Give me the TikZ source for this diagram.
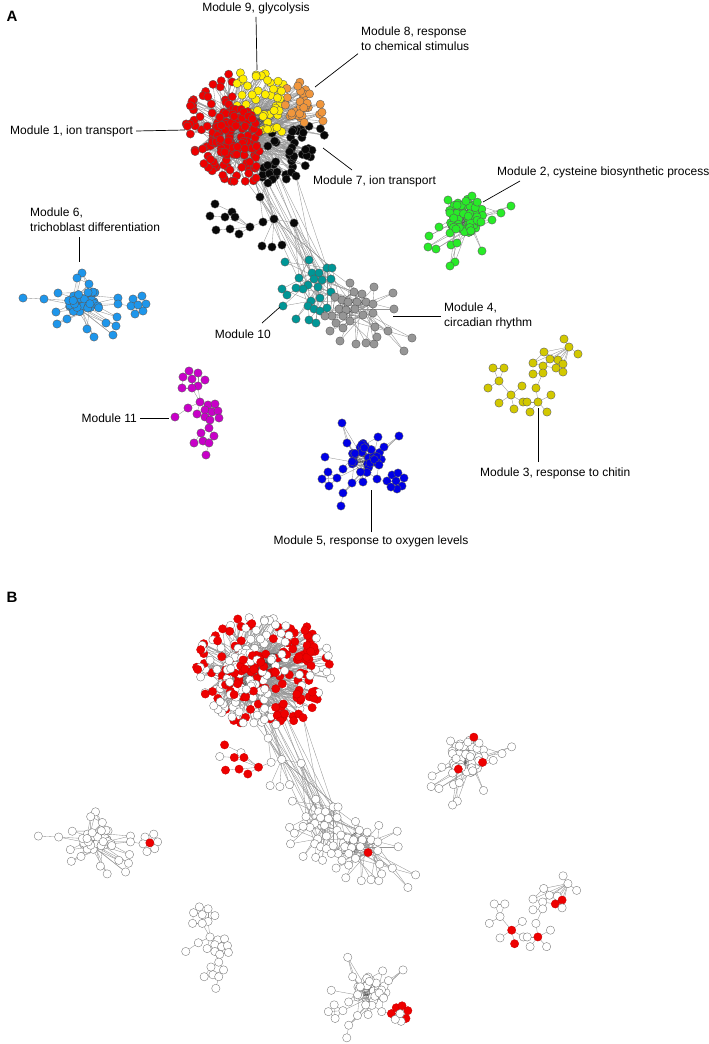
\documentclass[tikz,border=0pt]{standalone}
\usepackage{fontspec}
\setmainfont{Liberation Sans}
\pgfdeclarelayer{bg}
\pgfdeclarelayer{edges}
\pgfsetlayers{bg,edges,main}
\definecolor{mred}{RGB}{238,0,0}
\definecolor{myel}{RGB}{255,238,0}
\definecolor{morg}{RGB}{240,150,60}
\definecolor{mblk}{RGB}{8,8,8}
\definecolor{mgrn}{RGB}{40,235,40}
\definecolor{mteal}{RGB}{0,150,150}
\definecolor{mgray}{RGB}{150,150,150}
\definecolor{mlblu}{RGB}{30,150,235}
\definecolor{mmag}{RGB}{200,0,200}
\definecolor{mblu}{RGB}{0,0,230}
\definecolor{molv}{RGB}{210,200,0}
\tikzset{
 nd/.style={circle,inner sep=0pt,minimum size=8.3pt,line width=0.35pt},
 ed/.style={draw=black!42,line width=0.35pt},
 edk/.style={draw=black!70,line width=0.35pt},
 lbl/.style={font=\fontsize{12}{14.5}\selectfont,inner sep=3pt,align=left},
 ptr/.style={draw=black,line width=0.7pt},
 panel/.style={font=\bfseries\fontsize{15}{15}\selectfont,inner sep=0pt}
}
\newif\ifpanelA
\newcommand\pickp[2]{\ifpanelA\def\fc{#1}\def\dc{black!65}\else
  \ifdim\rr pt<#2 pt\def\fc{mred}\def\dc{mred!85!black}\else\def\fc{white}\def\dc{black!55}\fi\fi}
\newcommand\pickf[2]{\ifpanelA\def\fc{#1}\def\dc{black!65}\else
  \ifnum#2=1 \def\fc{mred}\def\dc{mred!85!black}\else\def\fc{white}\def\dc{black!55}\fi\fi}
% random blob: prefix, cx, cy, rx, ry, n, colour, red probability
\newcommand\blob[8]{%
 \foreach \i in {1,...,#6}{%
  \pgfmathsetmacro\ang{360*rnd}%
  \pgfmathsetmacro\rad{sqrt(rnd)}%
  \pgfmathsetmacro\px{#2+#4*\rad*cos(\ang)}%
  \pgfmathsetmacro\py{#3+#5*\rad*sin(\ang)}%
  \pgfmathsetmacro\rr{rnd}%
  \pickp{#7}{#8}%
  \node[nd,fill=\fc,draw=\dc] (\P#1-\i) at (\px,\py) {};}}
% hand placed nodes: prefix, colour, list x/y/redflag
\newcommand\hand[3]{%
 \foreach[count=\i] \hx/\hy/\hr in {#3}{%
  \pickf{#2}{\hr}%
  \node[nd,fill=\fc,draw=\dc] (\P#1-\i) at (\hx,\hy) {};}}
% random links: style, src prefix, from, to, k, dst prefix, m
\newcommand\links[7]{%
 \begin{pgfonlayer}{edges}%
 \foreach \i in {#3,...,#4}{\foreach \j in {1,...,#5}{%
   \pgfmathrandominteger{\t}{1}{#7}%
   \draw[#1] (\P#2-\i.center) -- (\P#6-\t.center);}}%
 \end{pgfonlayer}}
% explicit links inside one group
\newcommand\edges[2]{%
 \begin{pgfonlayer}{edges}%
 \foreach \ea/\eb in {#2}{\draw[ed] (\P#1-\ea.center) -- (\P#1-\eb.center);}%
 \end{pgfonlayer}}
\newcommand\network{%
 \pgfmathsetseed{2718}%
 % big ball: modules 1, 9, 8, 7 -- periphery, then dense red core on top
 \foreach \i in {1,...,190}{%
  \pgfmathsetmacro\ang{360*rnd}%
  \pgfmathsetmacro\rad{0.22+0.78*sqrt(rnd)}%
  \pgfmathsetmacro\px{255+72*\rad*cos(\ang)}%
  \pgfmathsetmacro\py{127+58*\rad*sin(\ang)}%
  \pgfmathsetmacro\rr{rnd}%
  \pgfmathtruncatemacro\reg{(\px>284 && \py<125) ? 1 : (((\px>262 && \py>132) || (\px>284)) ? 2 : ((\px>236 && \py<132) ? 3 : 0))}%
  \ifcase\reg \def\cc{mred}\def\pp{0.3}\or\def\cc{morg}\def\pp{0.8}\or\def\cc{mblk}\def\pp{0.6}\or\def\cc{myel}\def\pp{0.35}\fi
  \pickp{\cc}{\pp}%
  \node[nd,fill=\fc,draw=\dc] (\P bp-\i) at (\px,\py) {};}%
 \blob{yb}{270}{117}{14}{15}{14}{myel}{0.35}%
 \blob{bc}{236}{133}{25}{25}{95}{mred}{0.5}%
 \hand{bk}{mblk}{268/183/0, 277/172/1, 260/197/0, 296/176/1, 215/204/1, 232/212/0, 210/216/0, 225/217/1, 235/217/1, 216/230/1, 230/229/1, 239/234/1, 250/227/1, 263/222/0, 274/219/0, 294/223/0, 262/246/0, 272/247/0, 282/245/0}%
 % module 10 (teal) and module 4 (gray)
 \hand{tl}{mteal}{312/273/0, 319/273/0, 314/279/0, 322/280/0, 308/285/0, 318/287/0, 303/289/0, 299/278/0, 331/279/0, 320/298/0, 311/301/0, 327/268/0, 332/268/0, 331/292/0, 285/262/0, 309/260/0, 296/288/0, 282/289/0, 287/295/0, 308/306/0, 314/309/0, 320/311/0, 327/308/0, 283/306/0, 296/319/0, 309/320/0, 316/323/0}%
 \hand{gy}{mgray}{335/297/0, 342/300/0, 348/302/0, 357/302/0, 366/302/0, 339/309/0, 346/310/0, 355/309/0, 363/315/1, 343/316/0, 350/321/0, 362/294/0, 354/292/0, 332/316/0, 373/304/0, 350/283/0, 374/287/0, 393/293/0, 394/309/0, 373/313/0, 325/316/0, 336/323/0, 343/328/0, 330/331/0, 340/341/0, 356/344/0, 366/343/0, 374/344/0, 377/337/0, 375/327/0, 388/331/0, 412/338/0, 404/351/0}%
 % module 2
 \blob{gr}{466}{216}{18}{18}{62}{mgrn}{0}%
 \hand{gh}{mgrn}{448/200/0, 511/206/0, 501/213/0, 492/220/0, 439/227/0, 429/236/0, 428/247/0, 436/249/0, 451/245/0, 457/243/0, 450/233/0, 482/251/0, 455/262/0, 450/266/0, 472/196/1, 481/222/1, 456/229/1}%
 % module 6
 \blob{bl}{86}{303}{19}{12}{34}{mlblu}{0}%
 \hand{bh}{mlblu}{23/298/0, 44/299/0, 82/273/0, 77/278/0, 89/284/0, 58/293/0, 118/298/0, 117/317/0, 56/312/0, 67/319/0, 57/324/0, 87/329/0, 94/337/0, 113/335/0, 116/326/0, 106/323/0, 118/304/0, 133/299/0, 142/296/0, 146/304/0, 131/306/0, 143/311/0, 135/314/0, 138/305/1}%
 % module 11
 \hand{mg}{mmag}{189/371/0, 198/373/0, 183/377/0, 192/379/0, 205/380/0, 198/386/0, 182/388/0, 192/388/0, 200/402/0, 188/408/0, 175/417/0, 197/414/0, 208/405/0, 215/404/0, 205/410/0, 212/412/0, 218/411/0, 205/417/0, 210/420/0, 219/418/0, 209/428/0, 201/433/0, 214/436/0, 203/441/0, 209/443/0, 194/443/0, 206/455/0}%
 % module 5
 \blob{fv}{365}{458}{18}{15}{30}{mblu}{0}%
 \hand{fh}{mblu}{342/423/0, 378/437/0, 399/436/0, 347/443/0, 384/447/0, 379/465/0, 343/469/0, 352/483/0, 363/482/0, 377/479/0, 343/493/0, 341/506/0, 325/457/0, 328/472/0, 322/479/0, 329/486/0, 337/478/0, 387/481/1, 392/475/1, 398/473/1, 404/478/1, 402/486/1, 397/489/0, 391/487/0, 396/481/0}%
 % module 3
 \hand{yl}{molv}{564/339/0, 569/347/0, 578/354/0, 544/352/0, 550/359/0, 558/360/0, 563/364/1, 533/363/0, 543/366/0, 556/368/1, 563/372/0, 533/374/0, 543/373/0, 536/388/0, 493/368/0, 504/368/0, 499/381/0, 488/388/0, 522/386/0, 511/395/1, 551/395/0, 523/402/0, 527/402/0, 538/402/1, 499/403/0, 514/409/1, 530/412/0, 547/412/0}%
 % ---- connectors ----
 \links{edk}{bc}{1}{95}{4}{bc}{95}%
 \links{ed}{bp}{1}{190}{3}{bc}{95}%
 \links{edk}{yb}{1}{14}{3}{bc}{95}%
 \links{ed}{bk}{1}{4}{3}{bc}{95}%
 \links{ed}{bk}{1}{4}{2}{tl}{14}%
 \links{ed}{bk}{15}{16}{3}{tl}{14}%
 \links{ed}{bk}{15}{15}{4}{bc}{95}%
 \links{ed}{bk}{16}{16}{2}{gy}{15}%
 \links{ed}{tl}{1}{6}{1}{bc}{95}%
 \edges{bk}{5/6,6/13,7/8,8/13,9/13,10/11,11/13,12/13,13/14,14/15,15/16,15/17,15/18,15/19,1/3,3/15,1/2,2/4,3/14}%
 \links{ed}{tl}{1}{27}{2}{tl}{14}%
 \links{edk}{gy}{1}{15}{2}{gy}{15}%
 \links{ed}{gy}{16}{33}{2}{gy}{15}%
 \links{ed}{tl}{1}{14}{1}{gy}{15}%
 \links{edk}{gr}{1}{62}{3}{gr}{62}%
 \links{ed}{gh}{1}{17}{2}{gr}{62}%
 \links{edk}{bl}{1}{34}{3}{bl}{34}%
 \links{ed}{bh}{2}{17}{2}{bl}{34}%
 \edges{bh}{1/2,17/21,18/19,19/20,20/22,22/23,23/21,21/18,18/24,19/24,20/24,21/24,22/24,23/24,3/4,4/5,3/5}%
 \edges{mg}{1/2,1/3,1/4,2/4,2/5,3/4,3/7,4/6,4/8,5/6,6/8,7/8,2/6,8/9,6/9,9/10,10/11,9/13,9/15,12/15,12/18,13/14,13/15,13/16,14/16,14/17,15/16,15/18,16/17,16/19,17/20,18/19,19/20,15/19,16/18,13/17,12/9,19/21,18/21,21/22,21/23,22/24,22/25,23/25,24/25,24/26,25/27,22/26,23/24}%
 \links{edk}{fv}{1}{30}{3}{fv}{30}%
 \links{ed}{fh}{1}{11}{2}{fv}{30}%
 \links{ed}{fh}{13}{13}{1}{fv}{30}%
 \links{ed}{fh}{17}{17}{1}{fv}{30}%
 \edges{fh}{1/4,3/5,14/15,15/16,16/17,14/17,14/16,15/17,11/12,11/8,18/19,19/20,20/21,21/22,22/23,23/24,24/18,25/18,25/19,25/20,25/21,25/22,25/23,25/24,18/10}%
 \edges{yl}{1/2,2/3,2/4,2/5,2/6,2/7,2/8,2/9,2/10,2/11,4/5,4/8,5/6,5/9,6/7,6/10,7/10,7/11,8/9,9/10,10/11,4/6,5/7,12/13,13/9,13/14,14/24,15/16,15/17,16/17,17/18,17/20,20/19,20/25,20/26,20/22,22/23,23/24,24/21,24/27,24/28}%
}
\begin{document}
\begin{tikzpicture}[x=1pt,y=-1pt]
\useasboundingbox (0,0) rectangle (709,1044);
\begin{pgfonlayer}{bg}\fill[white] (0,0) rectangle (709,1044);\end{pgfonlayer}
% ---------- panel A ----------
\panelAtrue\def\P{A}
\network
\node[panel] (pA) at (12,16) {A};
\node[lbl,anchor=center] (l9) at (256,8) {Module 9, glycolysis};
\coordinate (p9) at (257,70);
\draw[ptr] (l9.south) -- (p9);
\node[lbl,anchor=north west] (l8) at (358,24) {Module 8, response\\to chemical stimulus};
\coordinate (p8) at (315,87);
\draw[ptr] (l8.south west) -- (p8);
\node[lbl,anchor=west] (l1) at (7,131) {Module 1, ion transport};
\coordinate (p1) at (185,130);
\draw[ptr] (l1.east) -- (p1);
\node[lbl,anchor=west] (l7) at (310,181) {Module 7, ion transport};
\coordinate (s7) at (352,170);
\coordinate (p7) at (323,148);
\draw[ptr] (s7) -- (p7);
\node[lbl,anchor=west] (l2) at (494,172) {Module 2, cysteine biosynthetic process};
\coordinate (s2) at (520,181);
\coordinate (p2) at (483,202);
\draw[ptr] (s2) -- (p2);
\node[lbl,anchor=north west] (l6) at (27,205) {Module 6,\\trichoblast differentiation};
\coordinate (s6) at (79,237);
\coordinate (p6) at (79,262);
\draw[ptr] (s6) -- (p6);
\node[lbl,anchor=east] (l10) at (274,334) {Module 10};
\coordinate (s10) at (262,323);
\coordinate (p10) at (280,307);
\draw[ptr] (s10) -- (p10);
\node[lbl,anchor=west] (l4) at (441,316) {Module 4,\\circadian rhythm};
\coordinate (p4) at (393,316);
\draw[ptr] (l4.west) -- (p4);
\node[lbl,anchor=east] (l11) at (140,418) {Module 11};
\coordinate (p11) at (169,418);
\draw[ptr] (l11.east) -- (p11);
\node[lbl,anchor=west] (l3) at (477,473) {Module 3, response to chitin};
\coordinate (s3) at (538,462);
\coordinate (p3) at (538,408);
\draw[ptr] (s3) -- (p3);
\node[lbl,anchor=center] (l5) at (371,541) {Module 5, response to oxygen levels};
\coordinate (p5) at (371,490);
\draw[ptr] (l5.north) -- (p5);
% ---------- panel B ----------
\node[panel] (pB) at (12,597) {B};
\begin{scope}[xshift=16pt,yshift=-547pt,scale=0.97]
\panelAfalse\def\P{B}
\network
\end{scope}
\end{tikzpicture}
\end{document}
